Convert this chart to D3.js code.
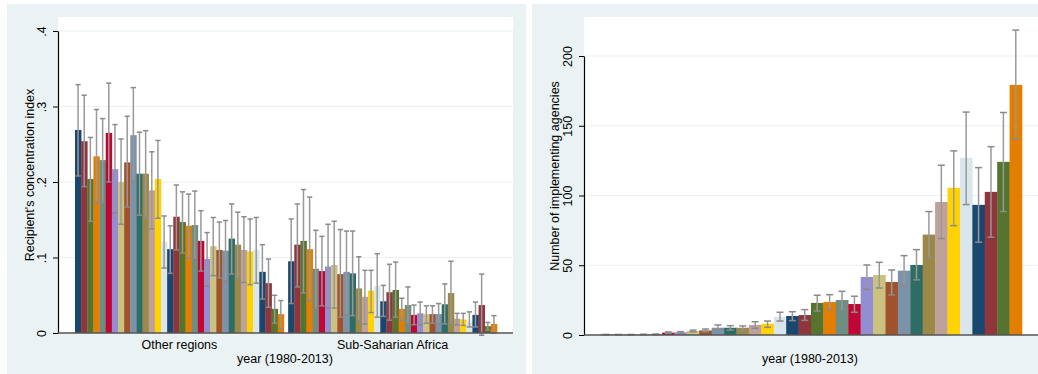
<!DOCTYPE html>
<html>
<head>
<meta charset="utf-8">
<script src="https://cdn.jsdelivr.net/npm/d3@7"></script>
<style>
  body { margin: 0; background: #fff; }
  text { font-family: "Liberation Sans", Arial, sans-serif; fill: #000; }
</style>
</head>
<body>
<svg id="chart" width="1038" height="374"></svg>
<script>
// years 1980-2013
var years = d3.range(1980, 2014);
var regions = ["Other regions", "Sub-Saharian Africa"];

// Stata s2color cycle
var palette = ["#1A476F", "#90353B", "#55752F", "#E37E00", "#6E8E84", "#C10534", "#938DD2",
  "#CAC27E", "#A0522D", "#7B92A8", "#2D6D66", "#9C8847", "#BFA19C", "#FFD200", "#D9E6EB"];

// left panel: recipient's concentration index
var concOther = [0.269, 0.254, 0.204, 0.234, 0.229, 0.265, 0.217, 0.200, 0.226, 0.262, 0.211, 0.211, 0.189, 0.204, 0.121,
  0.111, 0.154, 0.147, 0.142, 0.143, 0.122, 0.098, 0.115, 0.110, 0.109, 0.125, 0.117, 0.110, 0.108, 0.110,
  0.081, 0.066, 0.032, 0.025];
var concOtherHi = [0.329, 0.315, 0.259, 0.296, 0.284, 0.331, 0.276, 0.257, 0.287, 0.325, 0.266, 0.268, 0.240, 0.255, 0.155,
  0.142, 0.196, 0.187, 0.184, 0.188, 0.162, 0.133, 0.153, 0.147, 0.149, 0.171, 0.160, 0.154, 0.151, 0.153,
  0.117, 0.098, 0.050, 0.043];
var concOtherLo = [0.208, 0.194, 0.148, 0.173, 0.173, 0.200, 0.159, 0.144, 0.167, 0.201, 0.156, 0.153, 0.138, 0.152, 0.086,
  0.079, 0.110, 0.106, 0.099, 0.099, 0.082, 0.062, 0.076, 0.073, 0.069, 0.078, 0.074, 0.067, 0.064, 0.066,
  0.045, 0.034, 0.013, 0.006];
var concSSA = [0.095, 0.117, 0.122, 0.111, 0.085, 0.082, 0.088, 0.090, 0.078, 0.081, 0.079, 0.059, 0.048, 0.056, 0.062,
  0.042, 0.054, 0.057, 0.032, 0.037, 0.024, 0.026, 0.025, 0.025, 0.025, 0.038, 0.053, 0.019, 0.018, 0.015,
  0.024, 0.037, 0.009, 0.012];
var concSSAHi = [0.151, 0.171, 0.190, 0.180, 0.136, 0.128, 0.144, 0.148, 0.137, 0.135, 0.135, 0.101, 0.083, 0.083, 0.105,
  0.063, 0.091, 0.094, 0.046, 0.061, 0.037, 0.041, 0.036, 0.036, 0.039, 0.065, 0.095, 0.026, 0.026, 0.028,
  0.041, 0.078, 0.014, 0.023];
var concSSALo = [0.039, 0.061, 0.053, 0.043, 0.033, 0.036, 0.033, 0.033, 0.021, 0.024, 0.023, 0.016, 0.012, 0.027, 0.021,
  0.022, 0.017, 0.021, 0.017, 0.013, 0.011, 0.011, 0.013, 0.013, 0.012, 0.012, 0.012, 0.011, 0.010, 0.008,
  0.008, -0.003, 0.004, 0.000];
var concTicks = [0, 0.1, 0.2, 0.3, 0.4];

// right panel: number of implementing agencies
var agencies = [0.3, 0.3, 0.3, 0.4, 0.5, 1.7, 1.9, 2.9, 3.3, 5.2, 5.2, 5.2, 7.2, 8.1, 13.0,
  13.6, 14.3, 23.0, 23.7, 25.1, 22.2, 41.6, 43.0, 38.0, 46.1, 50.2, 72.0, 95.4, 105.5, 127.0,
  93.3, 102.6, 124.1, 179.3];
var agenciesHi = [0.4, 0.4, 0.4, 0.5, 0.7, 2.2, 2.4, 3.5, 4.3, 7.2, 6.7, 6.5, 9.5, 10.0, 16.3,
  16.7, 18.2, 28.5, 28.9, 31.3, 27.8, 50.2, 52.1, 46.6, 56.9, 61.2, 88.5, 121.7, 132.0, 159.8,
  120.0, 135.0, 159.5, 218.6];
var agenciesLo = [0.2, 0.2, 0.2, 0.3, 0.3, 1.2, 1.4, 2.3, 2.3, 3.6, 3.6, 3.3, 4.8, 5.5, 10.0,
  10.3, 10.5, 17.2, 18.4, 17.9, 16.3, 32.8, 33.7, 28.7, 35.4, 39.5, 55.7, 69.1, 78.4, 93.5,
  66.5, 70.1, 88.5, 140.4];
var agencyTicks = [0, 50, 100, 150, 200];

var bg = "#EAF2F3", errColor = "#999999", capColor = "#8a8a8a";
var svg = d3.select("#chart");

function panel(x0, x1, plotLeft, plotRight, zeroY) {
  var g = svg.append("g");
  g.append("rect").attr("x", x0).attr("y", 4).attr("width", x1 - x0).attr("height", 374 - 4).attr("fill", bg);
  g.append("rect").attr("x", plotLeft).attr("y", 17).attr("width", plotRight - plotLeft).attr("height", zeroY - 17).attr("fill", "#fff");
  return g;
}

function yAxisDraw(g, y, ticks, fmt, left, right, title, titleX) {
  g.selectAll(".grid").data(ticks.filter(function (t) { return t > 0; })).enter().append("line")
    .attr("x1", left).attr("x2", right)
    .attr("y1", function (d) { return y(d); }).attr("y2", function (d) { return y(d); })
    .attr("stroke", bg).attr("stroke-width", 1.2);
  var ax = g.append("g").attr("transform", "translate(" + left + ",0)")
    .call(d3.axisLeft(y).tickValues(ticks).tickFormat(fmt).tickSize(5).tickSizeOuter(0));
  ax.select(".domain").attr("stroke", "#000").attr("stroke-width", 1.2);
  ax.selectAll(".tick line").attr("stroke", "#000");
  ax.selectAll(".tick text")
    .attr("font-size", 12.5).attr("x", 0).attr("dy", 0)
    .attr("transform", "translate(-12,0) rotate(-90)")
    .attr("text-anchor", "middle").attr("y", 0);
  g.append("text").attr("transform", "translate(" + titleX + "," + ((17 + y(0)) / 2) + ") rotate(-90)")
    .attr("text-anchor", "middle").attr("font-size", 12.5).text(title);
}

function bars(g, xs, y, vals, hi, lo, offset, capW) {
  var bw = xs.bandwidth();
  g.selectAll(null).data(years).enter().append("rect")
    .attr("x", function (d) { return offset + xs(d); })
    .attr("y", function (d, i) { return y(vals[i]); })
    .attr("width", bw + 0.3)
    .attr("height", function (d, i) { return y(0) - y(vals[i]); })
    .attr("fill", function (d, i) { return palette[i % palette.length]; });
  var e = g.selectAll(null).data(years).enter().append("g");
  e.append("line")
    .attr("x1", function (d) { return offset + xs(d) + bw / 2; })
    .attr("x2", function (d) { return offset + xs(d) + bw / 2; })
    .attr("y1", function (d, i) { return y(lo[i]); })
    .attr("y2", function (d, i) { return y(hi[i]); })
    .attr("stroke", errColor).attr("stroke-width", 1.5);
  [hi, lo].forEach(function (arr) {
    e.append("line")
      .attr("x1", function (d) { return offset + xs(d) + bw / 2 - capW; })
      .attr("x2", function (d) { return offset + xs(d) + bw / 2 + capW; })
      .attr("y1", function (d, i) { return y(arr[i]); })
      .attr("y2", function (d, i) { return y(arr[i]); })
      .attr("stroke", capColor).attr("stroke-width", 1.5);
  });
}

// ---------- left panel
var gl = panel(7, 526, 58, 513, 333);
var yl = d3.scaleLinear().domain([0, 0.4]).range([333, 31]);
yAxisDraw(gl, yl, concTicks, function (v) { return v === 0 ? "0" : d3.format(".1f")(v).replace(/^0/, ""); },
  58, 513, "Recipient's concentration index", 34);
var xOuter = d3.scaleBand().domain(regions).range([75, 497]).paddingInner(0.02);
var xInner = d3.scaleBand().domain(years).range([0, xOuter.bandwidth()]);
bars(gl, xInner, yl, concOther, concOtherHi, concOtherLo, xOuter(regions[0]), 2.6);
bars(gl, xInner, yl, concSSA, concSSAHi, concSSALo, xOuter(regions[1]), 2.6);
gl.append("line").attr("x1", 58).attr("x2", 513).attr("y1", 333).attr("y2", 333).attr("stroke", "#555").attr("stroke-width", 1.5);
gl.selectAll(".reg").data(regions).enter().append("text")
  .attr("x", function (d) { return xOuter(d) + xOuter.bandwidth() / 2; })
  .attr("y", 349).attr("text-anchor", "middle").attr("font-size", 12.5).text(function (d) { return d; });
gl.append("text").attr("x", 285).attr("y", 363).attr("text-anchor", "middle").attr("font-size", 12.5).text("year (1980-2013)");

// ---------- right panel
var gr = panel(532, 1038, 584, 1038, 335);
var yr = d3.scaleLinear().domain([0, 200]).range([335, 56]);
yAxisDraw(gr, yr, agencyTicks, d3.format("d"), 584, 1038, "Number of implementing agencies", 559);
var xr = d3.scaleBand().domain(years).range([600, 1022]);
bars(gr, xr, yr, agencies, agenciesHi, agenciesLo, 0, 3.5);
gr.append("line").attr("x1", 584).attr("x2", 1038).attr("y1", 335).attr("y2", 335).attr("stroke", "#555").attr("stroke-width", 1.5);
gr.append("text").attr("x", 810).attr("y", 363).attr("text-anchor", "middle").attr("font-size", 12.5).text("year (1980-2013)");
</script>
</body>
</html>
